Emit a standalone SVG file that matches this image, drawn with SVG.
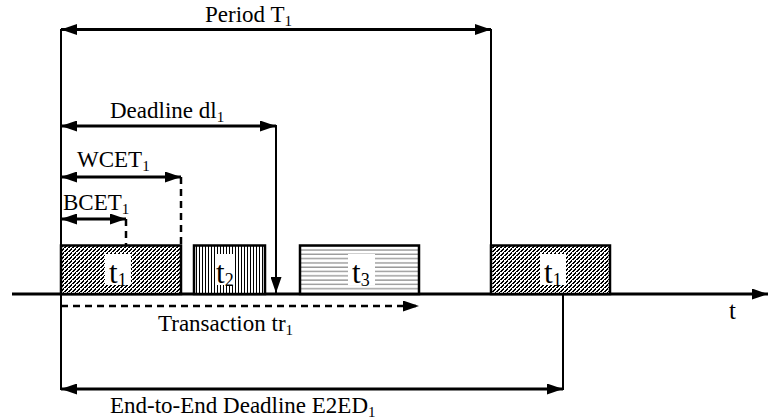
<svg xmlns="http://www.w3.org/2000/svg" width="768" height="419" viewBox="0 0 768 419">
<style>
text{font-family:"Liberation Serif","Times New Roman",serif;font-size:23px;fill:#000}
.sub{font-size:15px}
.big{font-size:31px}
.bsub{font-size:18px}
.ax{font-size:25px}
.arr{stroke:#000;stroke-width:3;fill:none}
.vl{stroke:#000;stroke-width:2;fill:none}
.dash{stroke:#000;stroke-width:2.5;fill:none;stroke-dasharray:7 5}
.box{stroke:#000;stroke-width:2.5}
</style>
<defs>
<marker id="ah" viewBox="0 0 16 11" refX="16" refY="5.5" markerWidth="16" markerHeight="11" markerUnits="userSpaceOnUse" orient="auto-start-reverse">
<path d="M0,0 L16,5.5 L0,11 z" fill="#000"/>
</marker>
<pattern id="diag" patternUnits="userSpaceOnUse" x="0" y="0" width="4" height="4">
<rect width="4" height="4" fill="#fff"/>
<path d="M0,3h1v1h-1z M1,2h1v1h-1z M2,1h1v1h-1z M3,0h1v1h-1z M1,3h1v1h-1z M2,2h1v1h-1z M3,1h1v1h-1z" fill="#000" shape-rendering="crispEdges"/>
</pattern>
<pattern id="vert" patternUnits="userSpaceOnUse" x="0" y="0" width="3" height="3">
<rect width="3" height="3" fill="#fff"/>
<rect x="1" width="1" height="3" fill="#000" shape-rendering="crispEdges"/>
</pattern>
<pattern id="horiz" patternUnits="userSpaceOnUse" x="0" y="249" width="4" height="4.3">
<rect width="4" height="4.3" fill="#fff"/>
<line x1="0" y1="1" x2="4" y2="1" stroke="#888" stroke-width="1.2"/>
</pattern>
</defs>

<g id="connectors">
<line class="arr" x1="12" y1="294" x2="768" y2="294" marker-end="url(#ah)"/>
<line class="vl" x1="61" y1="29" x2="61" y2="390"/>
<line class="arr" x1="61" y1="29.5" x2="491" y2="29.5" marker-start="url(#ah)" marker-end="url(#ah)"/>
<line class="vl" x1="491" y1="29" x2="491" y2="246"/>
<line class="arr" x1="61" y1="126" x2="276" y2="126" marker-start="url(#ah)" marker-end="url(#ah)"/>
<line class="vl" x1="276" y1="125" x2="276" y2="293" marker-end="url(#ah)"/>
<line class="arr" x1="61" y1="177" x2="181" y2="177" marker-start="url(#ah)" marker-end="url(#ah)"/>
<line class="dash" x1="181" y1="177" x2="181" y2="246"/>
<line class="arr" x1="61" y1="219" x2="126" y2="219" marker-start="url(#ah)" marker-end="url(#ah)"/>
<line class="dash" x1="126" y1="219" x2="126" y2="246"/>
<line class="dash" x1="61" y1="306" x2="419" y2="306" stroke-width="3" marker-end="url(#ah)"/>
<line class="vl" x1="563" y1="294" x2="563" y2="390"/>
<line class="arr" x1="61" y1="389" x2="563" y2="389" marker-start="url(#ah)" marker-end="url(#ah)"/>
</g>

<g id="task-t1-a">
<rect class="box" x="61" y="245.5" width="120" height="48.5" fill="url(#diag)"/>
<rect x="105" y="254" width="26" height="31" fill="#fff"/>
<text class="big" x="109" y="283">t<tspan class="bsub" dy="3">1</tspan></text>
</g>
<g id="task-t2">
<rect class="box" x="194" y="245.5" width="71" height="48.5" fill="url(#vert)"/>
<rect x="216" y="254" width="18" height="31" fill="#fff"/>
<text class="big" x="216" y="283">t<tspan class="bsub" dy="3">2</tspan></text>
</g>
<g id="task-t3">
<rect class="box" x="300" y="245.5" width="119" height="48.5" fill="url(#horiz)"/>
<rect x="348" y="254" width="27" height="31" fill="#fff"/>
<text class="big" x="352" y="283">t<tspan class="bsub" dy="3">3</tspan></text>
</g>
<g id="task-t1-b">
<rect class="box" x="491" y="245.5" width="119" height="48.5" fill="url(#diag)"/>
<rect x="540" y="254" width="26" height="31" fill="#fff"/>
<text class="big" x="544" y="283">t<tspan class="bsub" dy="3">1</tspan></text>
</g>

<g id="labels">
<text x="205" y="22">Period T<tspan class="sub" dy="4">1</tspan></text>
<text x="110" y="118">Deadline dl<tspan class="sub" dy="4">1</tspan></text>
<text x="77" y="167">WCET<tspan class="sub" dy="4">1</tspan></text>
<text x="63" y="210">BCET<tspan class="sub" dy="4">1</tspan></text>
<text x="158" y="331">Transaction tr<tspan class="sub" dy="4">1</tspan></text>
<text x="110" y="413">End-to-End Deadline E2ED<tspan class="sub" dy="4">1</tspan></text>
<text class="ax" x="729" y="319">t</text>
</g>
</svg>
